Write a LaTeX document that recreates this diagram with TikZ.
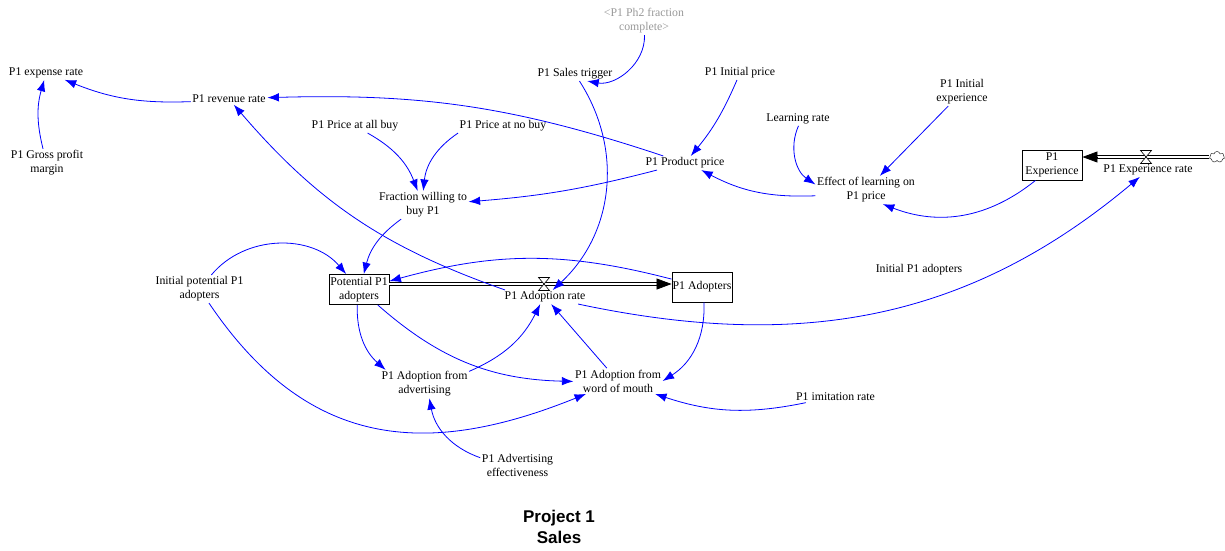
\documentclass[tikz,border=0pt]{standalone}
\usepackage{fontspec}
\setmainfont{Liberation Serif}
\setsansfont{Liberation Sans}
\usetikzlibrary{
  arrows.meta,
  shapes.symbols
}
\definecolor{linkblue}{HTML}{0000FF}
\definecolor{ghost}{HTML}{999999}

\begin{document}
\begin{tikzpicture}[
  x=1pt, y=1pt,
  var/.style={font=\fontsize{11.8}{14}\selectfont, align=center, inner sep=1.5pt},
  shadowvar/.style={var, text=ghost},
  stock/.style={var, draw, line width=0.9pt, minimum width=60pt, minimum height=30pt,
                inner sep=0pt},
  link/.style={draw=linkblue, line width=0.8pt, -{Latex[length=11.5pt,width=8.5pt]}},
  pipe/.style={draw=black, line width=0.7pt, double distance=2.2pt},
  pipetip/.style={line width=0.7pt, -{Triangle[length=15pt,width=11pt]}},
  valve/.style={draw, fill=white, line width=0.6pt}
]
  \useasboundingbox (0,0) rectangle (1225,-550);

  % Revenue side
  \node[var] (exprate) at (46,-73) {P1 expense rate};
  \node[var] (revrate) at (229,-99) {P1 revenue rate};
  \node[var] (gpm) at (47,-163) {P1 Gross profit\\margin};
  \node[var] (allbuy) at (355,-126) {P1 Price at all buy};
  \node[var] (nobuy) at (503,-126) {P1 Price at no buy};
  \node[var] (frac) at (423,-205) {Fraction willing to\\buy P1};

  % Price and learning
  \node[shadowvar] (ph2) at (644,-21) {<P1 Ph2 fraction\\complete>};
  \node[var] (trigger) at (575,-74) {P1 Sales trigger};
  \node[var] (initprice) at (740,-73) {P1 Initial price};
  \node[var] (price) at (685,-163) {P1 Product price};
  \node[var] (learn) at (798,-119) {Learning rate};
  \node[var] (initexp) at (962,-92) {P1 Initial\\experience};
  \node[var] (effect) at (866,-190) {Effect of learning on\\P1 price};

  % Experience stock and flow
  \node[stock] (exper) at (1052,-165) {P1\\Experience};
  \coordinate (vx) at (1146,-157);
  \node[var] (xprate) at (1148,-170) {P1 Experience rate};
  \node[cloud, draw, cloud puffs=7, aspect=1.4, minimum width=15pt, minimum height=11pt,
        inner sep=0pt] (src) at (1217,-157) {};
  \coordinate (pe) at (exper.east |- vx);
  \draw[pipe] (src.west |- vx) -- ([xshift=15pt]pe);
  \draw[pipetip] ([xshift=15pt]pe) -- (pe);
  \draw[valve, shift={(vx)}] (-5.5,6.5) -- (5.5,6.5) -- (-5.5,-6.5) -- (5.5,-6.5) -- cycle;

  % Adopter stocks and flow
  \node[stock] (pot) at (359,-289.5) {Potential P1\\adopters};
  \node[stock] (adopters) at (702,-287) {P1 Adopters};
  \coordinate (va) at (544,-284);
  \node[var] (adoptrate) at (545,-297) {P1 Adoption rate};
  \coordinate (pa) at (adopters.west |- va);
  \draw[pipe] (pot.east |- va) -- ([xshift=-15pt]pa);
  \draw[pipetip] ([xshift=-15pt]pa) -- (pa);
  \draw[valve, shift={(va)}] (-5.5,6.5) -- (5.5,6.5) -- (-5.5,-6.5) -- (5.5,-6.5) -- cycle;

  % Adoption drivers
  \node[var] (initpot) at (199.5,-289) {Initial potential P1\\adopters};
  \node[var] (initadopt) at (919,-270) {Initial P1 adopters};
  \node[var] (adv) at (424.5,-384) {P1 Adoption from\\advertising};
  \node[var] (wom) at (618,-381) {P1 Adoption from\\word of mouth};
  \node[var] (imit) at (835.5,-397) {P1 imitation rate};
  \node[var] (advef) at (517.5,-465) {P1 Advertising\\effectiveness};

  % causal links
  \draw[link] (revrate) to[bend left=12] (exprate);
  \draw[link] (gpm) to[bend left=15] (exprate);
  \draw[link] (price) to[bend right=10] (revrate);
  \draw[link] (adoptrate.170) to[bend left=15] (revrate);
  \draw[link] (allbuy) to[bend left=20] (frac);
  \draw[link] (nobuy.south west) to[bend right=25] (frac);
  \draw[link] (price) to[bend left=5] (frac);
  \draw[link] (ph2) to[out=-88, in=-10] (trigger.-30);
  \draw[link] (trigger) to[bend left=40] (adoptrate);
  \draw[link] (initprice) to[bend left=8] (price);
  \draw[link] (learn) to[bend right=40] (effect);
  \draw[link] (initexp) -- (effect);
  \draw[link] (effect) to[bend left=15] (price);
  \draw[link] (exper) to[bend left=30] (effect.-40);
  \draw[link] (adoptrate) to[out=-12, in=-140] (xprate);
  \draw[link] (frac) to[bend right=20] (pot);
  \draw[link] (initpot) to[bend left=50] (pot);
  \draw[link] (adopters) to[bend right=15] (pot);
  \draw[link] (initpot) to[out=-56, in=-158, looseness=1.15] (wom);
  \draw[link] (pot) to[bend right=25] (adv.160);
  \draw[link] (pot) to[bend right=20] (wom);
  \draw[link] (adv) to[bend right=20] (adoptrate);
  \draw[link] (wom) -- (adoptrate);
  \draw[link] (adopters) to[bend left=30] (wom.east);
  \draw[link] (imit) to[bend left=15] (wom);
  \draw[link] (advef) to[bend left=30] (adv);

  % Title
  \node[font=\sffamily\bfseries\fontsize{17}{21}\selectfont, align=center] (title)
    at (559,-527) {Project 1\\Sales};
\end{tikzpicture}
\end{document}
